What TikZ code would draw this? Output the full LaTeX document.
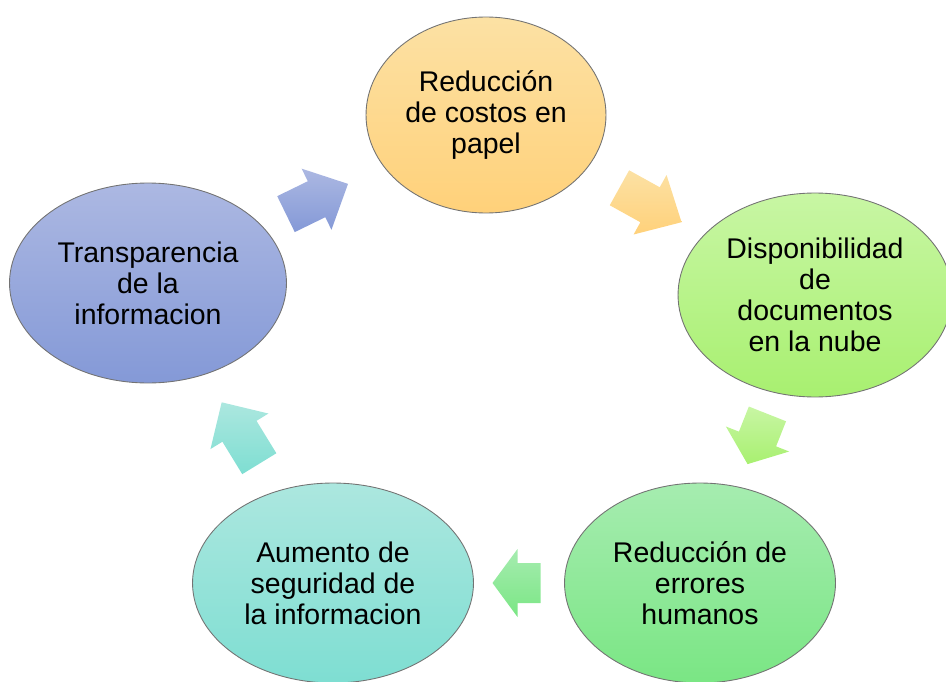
\documentclass[tikz,border=0pt]{standalone}
\usepackage{fontspec}
\setmainfont{Liberation Sans}
\usetikzlibrary{shapes.geometric,calc}

\begin{document}
\begin{tikzpicture}[x=0.02cm, y=0.02cm, font=\fontsize{16.2}{17.7}\selectfont]
%% one unit is one pixel of the 946x681 frame, y counted from the bottom
\tikzstyle{idea}=[ellipse, draw=gray!90!black, line width=0.5pt, inner sep=0pt, align=center]
\tikzstyle{orangefill}=[top color={rgb,255:red,252;green,225;blue,164}, bottom color={rgb,255:red,255;green,209;blue,122}]
\tikzstyle{limefill}=[top color={rgb,255:red,200;green,246;blue,164}, bottom color={rgb,255:red,168;green,240;blue,112}]
\tikzstyle{greenfill}=[top color={rgb,255:red,166;green,236;blue,176}, bottom color={rgb,255:red,122;green,230;blue,132}]
\tikzstyle{tealfill}=[top color={rgb,255:red,172;green,231;blue,223}, bottom color={rgb,255:red,126;green,222;blue,210}]
\tikzstyle{bluefill}=[top color={rgb,255:red,172;green,184;blue,226}, bottom color={rgb,255:red,132;green,153;blue,215}]
\tikzset{pics/blockarrow/.style n args={3}{code={
  \path[#3] ({-#1/2},-20) -- ({#1/2-#2},-20) -- ({#1/2-#2},-34) -- ({#1/2},0)
    -- ({#1/2-#2},34) -- ({#1/2-#2},20) -- ({-#1/2},20) -- cycle;}}}
\useasboundingbox (0,0) rectangle (946,681);
\clip (0,0) rectangle (946,681);
%% ellipses of the cycle
\node[idea, orangefill, minimum width=4.8cm, minimum height=3.92cm] at (486,566) (costos) {Reducción\\de costos en\\papel};
\node[idea, limefill, minimum width=5.48cm, minimum height=4.08cm] at (815,386) (nube) {Disponibilidad\\de\\documentos\\en la nube};
\node[idea, greenfill, minimum width=5.42cm, minimum height=4.0cm] at (700,98) (errores) {Reducción de\\errores\\humanos};
\node[idea, tealfill, minimum width=5.62cm, minimum height=4.0cm] at (333,98) (seguridad) {Aumento de\\seguridad de\\la informacion};
\node[idea, bluefill, minimum width=5.54cm, minimum height=4.0cm] at (148,398) (transparencia) {Transparencia\\de la\\informacion};
%% block arrows between the ellipses
\pic[rotate=26] at ($(transparencia)!0.5!(costos)$) {blockarrow={69}{35}{bluefill}};
\pic[rotate=-29] at ($(costos)!0.5!(nube)$) {blockarrow={71}{36}{orangefill}};
\pic[rotate=-111.6] at ($(nube)!0.5!(errores)$) {blockarrow={54}{27}{limefill}};
\pic[rotate=180] at ($(errores)!0.5!(seguridad)$) {blockarrow={48}{25}{greenfill}};
\pic[rotate=121.5] at ($(seguridad)!0.5!(transparencia)$) {blockarrow={72}{34}{tealfill}};
\end{tikzpicture}
\end{document}
